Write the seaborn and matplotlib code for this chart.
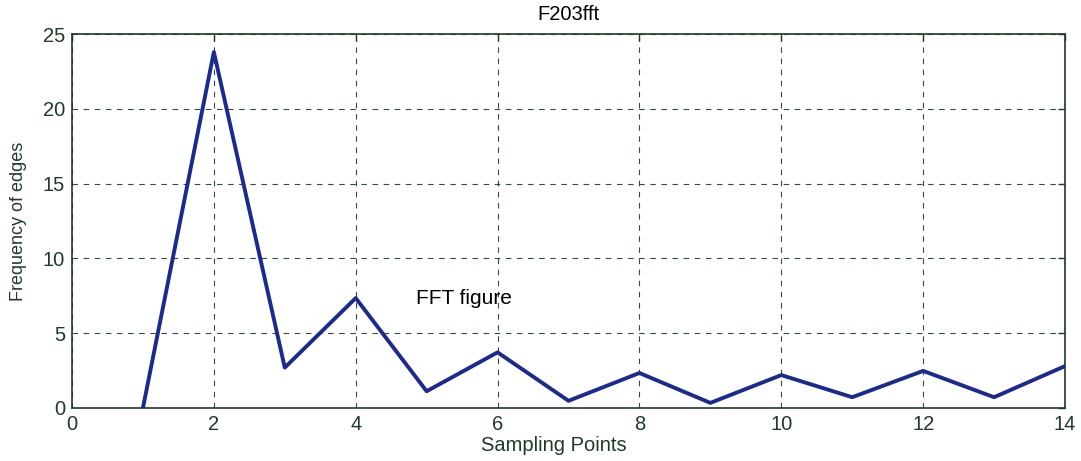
import matplotlib
matplotlib.use("Agg")
import matplotlib.pyplot as plt
import seaborn as sns
import pandas as pd

# FFT magnitude of edge frequencies per sampling point
sampling_points = [1, 2, 3, 4, 5, 6, 7, 8, 9, 10, 11, 12, 13, 14]
edge_frequency = [0.0, 23.8, 2.7, 7.35, 1.12, 3.72, 0.48, 2.34, 0.34, 2.2, 0.72, 2.48, 0.72, 2.8]
x_ticks = [0, 2, 4, 6, 8, 10, 12, 14]
y_ticks = [0, 5, 10, 15, 20, 25]

sns.set_style("white")
plt.rcParams["font.family"] = ["Liberation Sans", "DejaVu Sans"]

axis_color = "#1e3b28"
line_color = "#1b2a8e"

df = pd.DataFrame({"Sampling Points": sampling_points, "Frequency of edges": edge_frequency})

fig = plt.figure(figsize=(10.81, 4.61), dpi=100)
ax = fig.add_axes([0.0666, 0.115, 0.9186, 0.811])

sns.lineplot(data=df, x="Sampling Points", y="Frequency of edges", color=line_color,
             linewidth=2.8, ax=ax, zorder=3)

ax.set_xlim(0, 14)
ax.set_ylim(0, 25)
ax.set_xticks(x_ticks)
ax.set_yticks(y_ticks)
ax.grid(True, linestyle=(0, (5, 5)), color=axis_color, linewidth=0.8, alpha=0.9)

for s in ax.spines.values():
    s.set_color(axis_color)
    s.set_linewidth(1.2)

ax.tick_params(direction="in", length=5, width=1, colors=axis_color, labelsize=14.5,
               top=True, right=True, pad=5)
for lbl in ax.get_xticklabels() + ax.get_yticklabels():
    lbl.set_color(axis_color)

ax.set_xlabel("Sampling Points", fontsize=14.5, color=axis_color, labelpad=0)
ax.xaxis.set_label_coords(0.485, -0.075)
ax.set_ylabel("Frequency of edges", fontsize=13, color=axis_color)
ax.yaxis.set_label_coords(-0.045, 0.5)
ax.set_title("F203fft", fontsize=14.5, color="black", pad=10)

ax.text(4.85, 7.3, "FFT figure", fontsize=15, color="black", va="center", ha="left")

fig.savefig("out.png", dpi=100)
